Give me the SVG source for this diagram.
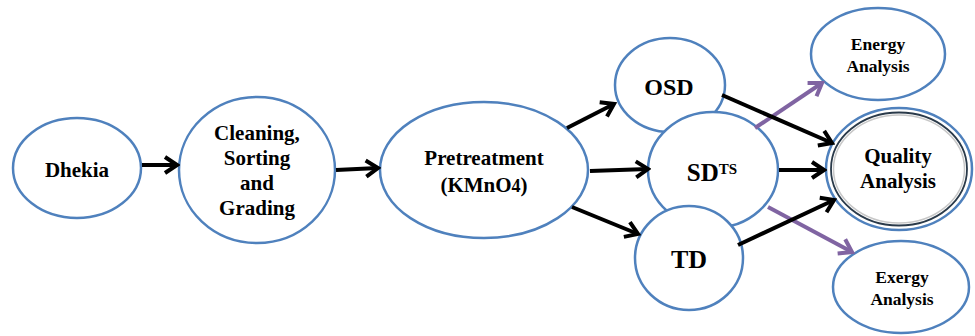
<svg xmlns="http://www.w3.org/2000/svg" width="975" height="336" viewBox="0 0 975 336">
<style>
.n{fill:#fff;stroke:#4F81BD;stroke-width:2.5}
.t{font-family:"Liberation Serif","Times New Roman",serif;font-weight:bold;fill:#000;text-anchor:middle}
.c{fill:none;stroke:#000;stroke-width:4}
.p{fill:none;stroke:#8064A2;stroke-width:4}
</style>
<defs>
<marker id="ah" markerUnits="userSpaceOnUse" markerWidth="18" markerHeight="22" viewBox="0 0 18 22" refX="15" refY="11" orient="auto">
<path d="M3,3 L15,11 L3,19" fill="none" stroke="#000" stroke-width="4"/>
</marker>
<marker id="ap" markerUnits="userSpaceOnUse" markerWidth="18" markerHeight="22" viewBox="0 0 18 22" refX="15" refY="11" orient="auto">
<path d="M3,3 L15,11 L3,19" fill="none" stroke="#8064A2" stroke-width="4"/>
</marker>
</defs>
<rect width="975" height="336" fill="#fff"/>
<g id="dhekia"><ellipse class="n" cx="77" cy="168" rx="64" ry="50"/><text class="t" x="77" y="177" font-size="21">Dhekia</text></g>
<g id="cleaning"><ellipse class="n" cx="257" cy="170" rx="78" ry="73"/>
<text class="t" font-size="21"><tspan x="257" y="140">Cleaning,</tspan><tspan x="257" y="165">Sorting</tspan><tspan x="257" y="190">and</tspan><tspan x="257" y="215">Grading</tspan></text></g>
<g id="pretreatment"><ellipse class="n" cx="484" cy="170" rx="104" ry="68"/>
<text class="t" font-size="21"><tspan x="484" y="165">Pretreatment</tspan><tspan x="484" y="192">(KMnO<tspan font-size="18">4</tspan>)</tspan></text></g>
<g id="osd"><ellipse class="n" cx="670" cy="85" rx="55" ry="47"/><text class="t" x="669" y="95" font-size="24">OSD</text></g>
<g id="sd"><ellipse class="n" cx="713" cy="170" rx="65" ry="58"/><text class="t" x="712" y="181" font-size="25">SD<tspan font-size="15" dy="-7">TS</tspan></text></g>
<g id="td"><ellipse class="n" cx="689" cy="258" rx="54" ry="52"/><text class="t" x="689" y="268" font-size="26">TD</text></g>
<g id="energy"><ellipse class="n" cx="878" cy="54" rx="67" ry="46"/>
<text class="t" font-size="17.5"><tspan x="878" y="50">Energy</tspan><tspan x="878" y="72">Analysis</tspan></text></g>
<g id="quality"><ellipse class="n" cx="899" cy="169" rx="73" ry="61"/>
<ellipse cx="899" cy="169" rx="68" ry="56.5" fill="none" stroke="#2a3a4a" stroke-width="1.8"/>
<ellipse cx="899" cy="169" rx="65.5" ry="54" fill="none" stroke="#c8c8c8" stroke-width="1.5"/>
<text class="t" font-size="21"><tspan x="898" y="163">Quality</tspan><tspan x="898" y="188">Analysis</tspan></text></g>
<g id="exergy"><ellipse class="n" cx="901" cy="287" rx="68" ry="46"/>
<text class="t" font-size="17.5"><tspan x="902" y="283">Exergy</tspan><tspan x="902" y="305">Analysis</tspan></text></g>
<g id="connectors">
<line class="p" x1="755" y1="128" x2="822" y2="83" marker-end="url(#ap)"/>
<line class="p" x1="768" y1="207" x2="852" y2="252" marker-end="url(#ap)"/>
<line class="c" x1="142" y1="165" x2="177" y2="165" marker-end="url(#ah)"/>
<line class="c" x1="336" y1="170" x2="378" y2="168" marker-end="url(#ah)"/>
<line class="c" x1="567" y1="128" x2="614" y2="104" marker-end="url(#ah)"/>
<line class="c" x1="590" y1="171" x2="648" y2="169" marker-end="url(#ah)"/>
<line class="c" x1="572" y1="207" x2="638" y2="234" marker-end="url(#ah)"/>
<line class="c" x1="722" y1="95" x2="832" y2="143" marker-end="url(#ah)"/>
<line class="c" x1="779" y1="170" x2="824" y2="170" marker-end="url(#ah)"/>
<line class="c" x1="738" y1="245" x2="834" y2="200" marker-end="url(#ah)"/>
</g>
</svg>
